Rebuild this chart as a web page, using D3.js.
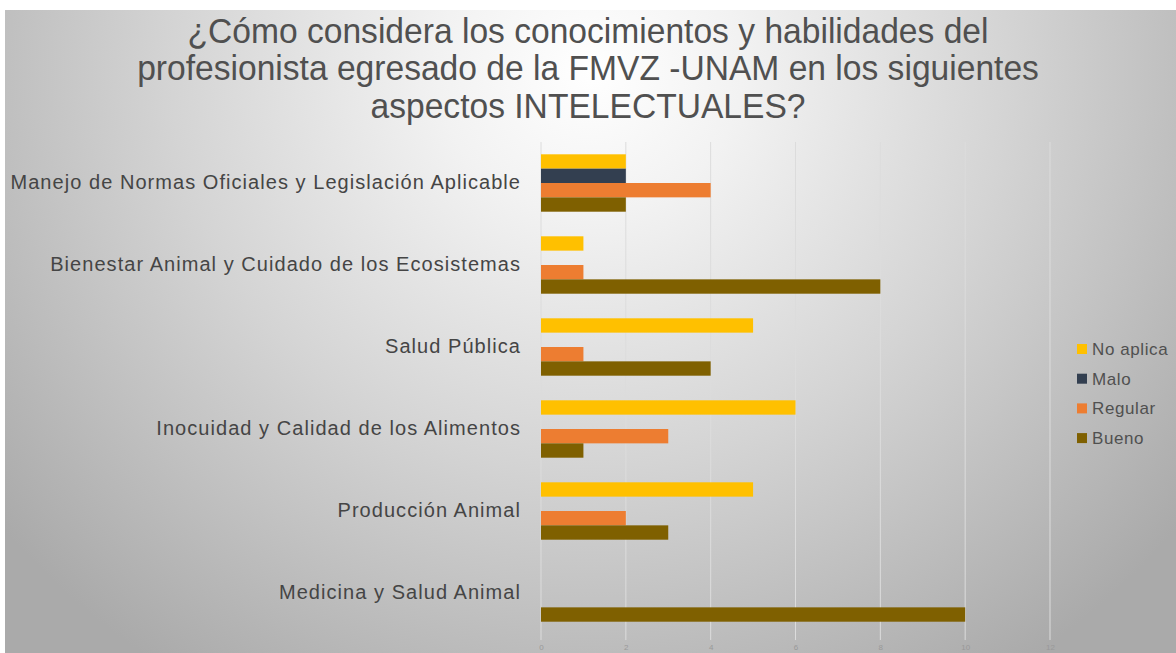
<!DOCTYPE html>
<html>
<head>
<meta charset="utf-8">
<script src="https://cdn.jsdelivr.net/npm/d3@7"></script>
<style>
  html, body { margin: 0; padding: 0; background: #ffffff; }
  svg { display: block; }
</style>
</head>
<body>
<svg id="chart" width="1176" height="653"></svg>
<script>
const titleLines = [
  "¿Cómo considera los conocimientos y habilidades del",
  "profesionista egresado de la FMVZ -UNAM en los siguientes",
  "aspectos INTELECTUALES?"
];
const categories = [
  "Manejo de Normas Oficiales y Legislación Aplicable",
  "Bienestar Animal y Cuidado de los Ecosistemas",
  "Salud Pública",
  "Inocuidad y Calidad de los Alimentos",
  "Producción Animal",
  "Medicina y Salud Animal"
];
const seriesNames = ["No aplica", "Malo", "Regular", "Bueno"];
const noAplica = [2, 1, 5, 6, 5, 0];
const malo     = [2, 0, 0, 0, 0, 0];
const regular  = [4, 1, 1, 3, 2, 0];
const bueno    = [2, 8, 4, 1, 3, 10];
const seriesColors = ["#FFC000", "#333F50", "#ED7D31", "#7F6000"];
const xTicks = [0, 2, 4, 6, 8, 10, 12];

const seriesValues = [noAplica, malo, regular, bueno];

const svg = d3.select("#chart");
const W = 1176, H = 653;

// background
const defs = svg.append("defs");
const grad = defs.append("radialGradient")
  .attr("id", "bg").attr("gradientUnits", "userSpaceOnUse")
  .attr("cx", 590).attr("cy", 70).attr("r", 760)
  .attr("gradientTransform", "translate(590,70) scale(1,0.95) translate(-590,-70)");
grad.append("stop").attr("offset", 0).attr("stop-color", "#ffffff");
grad.append("stop").attr("offset", 0.2).attr("stop-color", "#f2f2f2");
grad.append("stop").attr("offset", 0.55).attr("stop-color", "#d4d4d4");
grad.append("stop").attr("offset", 1).attr("stop-color", "#aaaaaa");
svg.append("rect").attr("x", 5).attr("y", 10).attr("width", W - 5).attr("height", H - 10)
  .attr("fill", "url(#bg)");

// scales
const x = d3.scaleLinear().domain([0, 12]).range([541, 1050]);
const y = d3.scaleBand().domain(categories).range([142, 634]).paddingInner(0.3).paddingOuter(0.15);
const ySub = d3.scaleBand().domain(seriesNames).range([0, y.bandwidth()]);

// gridlines
svg.append("g").selectAll("line").data(xTicks).join("line")
  .attr("x1", d => x(d)).attr("x2", d => x(d))
  .attr("y1", 142).attr("y2", 640)
  .attr("stroke", "#dcdcdc").attr("stroke-width", 1);

// bars
const groups = svg.append("g").selectAll("g").data(categories).join("g")
  .attr("transform", c => `translate(0,${y(c)})`);
groups.selectAll("rect")
  .data((c, i) => seriesNames.map((s, j) => ({ s, v: seriesValues[j][i], color: seriesColors[j] })))
  .join("rect")
  .attr("x", x(0))
  .attr("y", d => ySub(d.s))
  .attr("width", d => x(d.v) - x(0))
  .attr("height", ySub.bandwidth())
  .attr("fill", d => d.color);

// x axis tick labels
const xAxis = d3.axisBottom(x).tickValues(xTicks).tickSize(0).tickPadding(0);
const xg = svg.append("g").attr("transform", "translate(0,644)").call(xAxis);
xg.select(".domain").remove();
xg.selectAll("text").attr("font-family", "Liberation Sans, Arial, sans-serif")
  .attr("font-size", 8).attr("fill", "#999999");

// category labels
const yAxis = d3.axisLeft(y).tickSize(0).tickPadding(0);
const yg = svg.append("g").attr("transform", "translate(521,0)").call(yAxis);
yg.select(".domain").remove();
yg.selectAll("text")
  .attr("font-family", "Liberation Sans, Arial, sans-serif")
  .attr("font-size", 20).attr("letter-spacing", "1.05px")
  .attr("fill", "#454545");

// title (slightly condensed)
svg.append("g").attr("transform", "translate(588,0) scale(0.96,1)")
  .selectAll("text").data(titleLines).join("text")
  .attr("x", 0).attr("y", (d, i) => 43 + i * 37.5)
  .attr("text-anchor", "middle")
  .attr("font-family", "Liberation Sans, Arial, sans-serif")
  .attr("font-size", 35).attr("fill", "#505050")
  .text(d => d);

// legend
const leg = svg.append("g").selectAll("g").data(seriesNames).join("g")
  .attr("transform", (d, i) => `translate(1077,${349 + i * 29.7})`);
leg.append("rect").attr("x", 0).attr("y", -5).attr("width", 10).attr("height", 10)
  .attr("fill", (d, i) => seriesColors[i]);
leg.append("text").attr("x", 15).attr("y", 6)
  .attr("font-family", "Liberation Sans, Arial, sans-serif")
  .attr("font-size", 17).attr("letter-spacing", "0.6px").attr("fill", "#505050")
  .text(d => d);
</script>
</body>
</html>
